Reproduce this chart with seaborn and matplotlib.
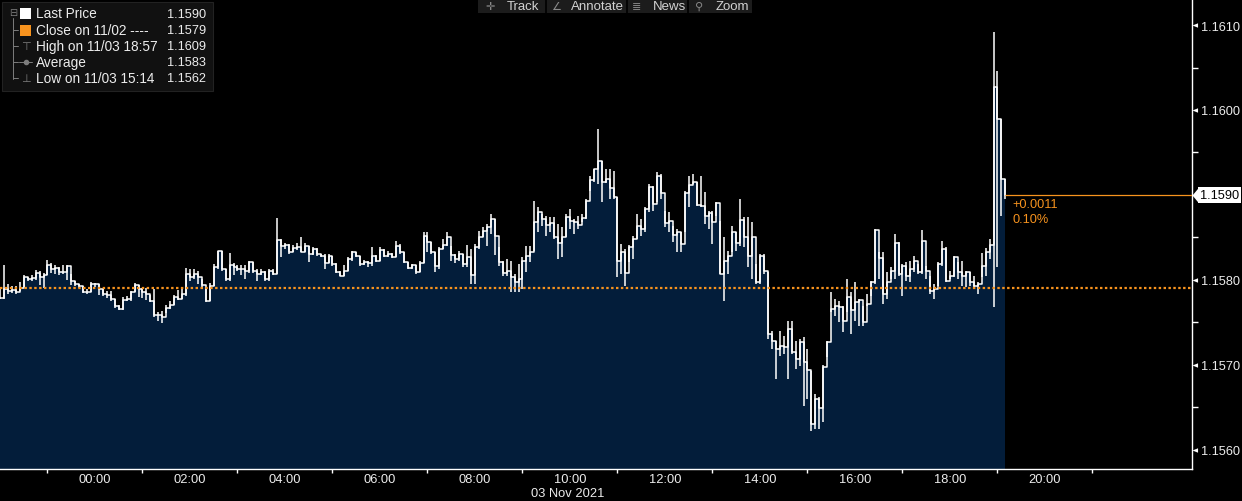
import numpy as np
import pandas as pd
import matplotlib
matplotlib.use("Agg")
import matplotlib.pyplot as plt
import matplotlib.transforms as mtransforms
from matplotlib.path import Path
from matplotlib.patches import Rectangle
import seaborn as sns

# ---------------- data (EUR/USD, 5-minute bars from 02 Nov 22:00) ----------------
close = [
    1.15779, 1.15789, 1.15787, 1.15788, 1.15786, 1.15791, 1.15804, 1.15801, 1.15802, 1.15808,
    1.15804, 1.15806, 1.15818, 1.15813, 1.15814, 1.15809, 1.15809, 1.15816, 1.15799, 1.15795,
    1.15793, 1.15786, 1.15786, 1.15795, 1.15795, 1.15789, 1.15784, 1.15782, 1.15778, 1.15769,
    1.15766, 1.15776, 1.15778, 1.15786, 1.15794, 1.15789, 1.15786, 1.15784, 1.15775, 1.15759,
    1.15759, 1.15756, 1.15767, 1.15771, 1.15780, 1.15778, 1.15784, 1.15807, 1.15804, 1.15807,
    1.15804, 1.15794, 1.15775, 1.15793, 1.15815, 1.15834, 1.15813, 1.15801, 1.15818, 1.15815,
    1.15813, 1.15813, 1.15811,
    1.15821, 1.15811, 1.15807, 1.15809, 1.15801, 1.15811, 1.15807, 1.15847, 1.15840, 1.15841,
    1.15833, 1.15838, 1.15839, 1.15833, 1.15840, 1.15831, 1.15836, 1.15831, 1.15828, 1.15820,
    1.15828, 1.15819, 1.15809, 1.15805, 1.15811, 1.15825, 1.15833, 1.15828, 1.15819, 1.15821,
    1.15820, 1.15828, 1.15822, 1.15835, 1.15828, 1.15831, 1.15827, 1.15840, 1.15833, 1.15821,
    1.15814, 1.15818, 1.15809, 1.15820, 1.15852, 1.15845, 1.15833, 1.15816, 1.15836, 1.15841,
    1.15851, 1.15829, 1.15825, 1.15831, 1.15819, 1.15827, 1.15806, 1.15839, 1.15851, 1.15858,
    1.15862, 1.15872, 1.15852,
    1.15821, 1.15808, 1.15811, 1.15804, 1.15798, 1.15801, 1.15822, 1.15828, 1.15833, 1.15868,
    1.15880, 1.15872, 1.15865, 1.15867, 1.15851, 1.15844, 1.15851, 1.15874, 1.15869, 1.15868,
    1.15865, 1.15873, 1.15893, 1.15918, 1.15931, 1.15940, 1.15915, 1.15919, 1.15908, 1.15898,
    1.15822, 1.15833, 1.15808, 1.15839, 1.15848, 1.15864, 1.15860, 1.15884, 1.15909, 1.15889,
    1.15922, 1.15902, 1.15867, 1.15869, 1.15853, 1.15856, 1.15842, 1.15902, 1.15912, 1.15915,
    1.15888, 1.15887, 1.15875, 1.15879, 1.15868, 1.15891, 1.15807, 1.15822, 1.15828, 1.15856,
    1.15844, 1.15871, 1.15851, 1.15828, 1.15851, 1.15798,
    1.15828, 1.15811, 1.15736, 1.15728, 1.15719, 1.15722, 1.15721, 1.15742, 1.15715, 1.15707,
    1.15727, 1.15704, 1.15694, 1.15631, 1.15660, 1.15649, 1.15698, 1.15727, 1.15766, 1.15769,
    1.15768, 1.15752, 1.15780, 1.15765, 1.15774, 1.15776, 1.15751, 1.15772, 1.15798, 1.15859,
    1.15826, 1.15784, 1.15798, 1.15811, 1.15844, 1.15807, 1.15816, 1.15805, 1.15813, 1.15822,
    1.15809, 1.15846, 1.15811, 1.15787, 1.15789, 1.15819, 1.15836, 1.15799, 1.15805, 1.15827,
    1.15809, 1.15805, 1.15809, 1.15798, 1.15793, 1.15795, 1.15816, 1.15833, 1.15841, 1.16027,
    1.15989, 1.15919, 1.15900,
]
high = [
    1.15789, 1.15818, 1.15795, 1.15793, 1.15793, 1.15798, 1.15806, 1.15804, 1.15806, 1.15812,
    1.15811, 1.15808, 1.15824, 1.15820, 1.15818, 1.15815, 1.15818, 1.15818, 1.15807, 1.15799,
    1.15795, 1.15793, 1.15789, 1.15798, 1.15796, 1.15795, 1.15789, 1.15787, 1.15787, 1.15778,
    1.15771, 1.15780, 1.15781, 1.15787, 1.15796, 1.15794, 1.15791, 1.15791, 1.15782, 1.15789,
    1.15762, 1.15764, 1.15771, 1.15775, 1.15782, 1.15788, 1.15789, 1.15814, 1.15813, 1.15813,
    1.15811, 1.15801, 1.15792, 1.15796, 1.15819, 1.15834, 1.15834, 1.15813, 1.15832, 1.15820,
    1.15818, 1.15818, 1.15818,
    1.15822, 1.15821, 1.15813, 1.15813, 1.15811, 1.15813, 1.15813, 1.15873, 1.15848, 1.15844,
    1.15842, 1.15841, 1.15844, 1.15851, 1.15844, 1.15840, 1.15839, 1.15838, 1.15831, 1.15831,
    1.15831, 1.15828, 1.15820, 1.15811, 1.15818, 1.15827, 1.15834, 1.15833, 1.15828, 1.15824,
    1.15822, 1.15839, 1.15829, 1.15839, 1.15836, 1.15834, 1.15832, 1.15846, 1.15842, 1.15833,
    1.15821, 1.15819, 1.15818, 1.15822, 1.15856, 1.15856, 1.15845, 1.15833, 1.15839, 1.15848,
    1.15856, 1.15840, 1.15831, 1.15834, 1.15831, 1.15841, 1.15836, 1.15842, 1.15858, 1.15862,
    1.15866, 1.15878, 1.15872,
    1.15839, 1.15822, 1.15825, 1.15822, 1.15807, 1.15819, 1.15827, 1.15840, 1.15840, 1.15893,
    1.15886, 1.15878, 1.15875, 1.15874, 1.15874, 1.15866, 1.15862, 1.15878, 1.15884, 1.15872,
    1.15875, 1.15878, 1.15895, 1.15922, 1.15931, 1.15978, 1.15940, 1.15931, 1.15931, 1.15928,
    1.15898, 1.15842, 1.15836, 1.15841, 1.15852, 1.15878, 1.15872, 1.15886, 1.15913, 1.15911,
    1.15927, 1.15925, 1.15881, 1.15880, 1.15864, 1.15860, 1.15856, 1.15905, 1.15922, 1.15925,
    1.15915, 1.15922, 1.15904, 1.15881, 1.15881, 1.15892, 1.15869, 1.15851, 1.15834, 1.15864,
    1.15856, 1.15895, 1.15874, 1.15874, 1.15868, 1.15819,
    1.15831, 1.15831, 1.15809, 1.15740, 1.15728, 1.15740, 1.15734, 1.15752, 1.15752, 1.15728,
    1.15731, 1.15733, 1.15719, 1.15693, 1.15666, 1.15662, 1.15700, 1.15728, 1.15786, 1.15778,
    1.15775, 1.15769, 1.15801, 1.15786, 1.15798, 1.15778, 1.15769, 1.15784, 1.15799, 1.15860,
    1.15833, 1.15833, 1.15809, 1.15815, 1.15854, 1.15845, 1.15819, 1.15821, 1.15822, 1.15828,
    1.15819, 1.15859, 1.15816, 1.15805, 1.15795, 1.15821, 1.15846, 1.15839, 1.15811, 1.15828,
    1.15821, 1.15822, 1.15811, 1.15809, 1.15805, 1.15798, 1.15832, 1.15838, 1.15848, 1.16092,
    1.16046, 1.15989, 1.15919,
]
low = [
    1.15778, 1.15778, 1.15784, 1.15785, 1.15784, 1.15787, 1.15792, 1.15799, 1.15799, 1.15800,
    1.15794, 1.15791, 1.15806, 1.15808, 1.15807, 1.15806, 1.15807, 1.15800, 1.15794, 1.15793,
    1.15791, 1.15785, 1.15784, 1.15786, 1.15792, 1.15782, 1.15781, 1.15779, 1.15775, 1.15767,
    1.15765, 1.15765, 1.15775, 1.15775, 1.15786, 1.15780, 1.15779, 1.15776, 1.15774, 1.15756,
    1.15752, 1.15749, 1.15761, 1.15766, 1.15771, 1.15776, 1.15778, 1.15781, 1.15799, 1.15801,
    1.15795, 1.15789, 1.15774, 1.15775, 1.15793, 1.15813, 1.15811, 1.15799, 1.15799, 1.15806,
    1.15811, 1.15806, 1.15801,
    1.15808, 1.15808, 1.15799, 1.15806, 1.15799, 1.15799, 1.15806, 1.15807, 1.15827, 1.15836,
    1.15831, 1.15833, 1.15835, 1.15833, 1.15833, 1.15821, 1.15829, 1.15828, 1.15827, 1.15813,
    1.15820, 1.15816, 1.15808, 1.15805, 1.15805, 1.15811, 1.15822, 1.15827, 1.15816, 1.15818,
    1.15815, 1.15816, 1.15821, 1.15822, 1.15827, 1.15827, 1.15826, 1.15827, 1.15831, 1.15820,
    1.15813, 1.15813, 1.15807, 1.15809, 1.15820, 1.15833, 1.15831, 1.15809, 1.15813, 1.15836,
    1.15840, 1.15822, 1.15820, 1.15822, 1.15815, 1.15815, 1.15795, 1.15795, 1.15836, 1.15851,
    1.15840, 1.15854, 1.15829,
    1.15816, 1.15805, 1.15805, 1.15786, 1.15786, 1.15786, 1.15789, 1.15809, 1.15821, 1.15834,
    1.15856, 1.15864, 1.15852, 1.15856, 1.15848, 1.15825, 1.15827, 1.15851, 1.15860, 1.15854,
    1.15860, 1.15868, 1.15872, 1.15905, 1.15915, 1.15913, 1.15892, 1.15914, 1.15895, 1.15895,
    1.15804, 1.15807, 1.15793, 1.15821, 1.15825, 1.15848, 1.15852, 1.15856, 1.15880, 1.15881,
    1.15892, 1.15895, 1.15862, 1.15856, 1.15845, 1.15833, 1.15833, 1.15856, 1.15886, 1.15913,
    1.15887, 1.15886, 1.15866, 1.15860, 1.15842, 1.15875, 1.15807, 1.15775, 1.15807, 1.15833,
    1.15834, 1.15840, 1.15839, 1.15815, 1.15801, 1.15795,
    1.15795, 1.15807, 1.15731, 1.15719, 1.15684, 1.15711, 1.15713, 1.15684, 1.15713, 1.15695,
    1.15699, 1.15652, 1.15660, 1.15622, 1.15625, 1.15625, 1.15633, 1.15709, 1.15762, 1.15758,
    1.15751, 1.15739, 1.15762, 1.15736, 1.15752, 1.15746, 1.15746, 1.15769, 1.15781, 1.15795,
    1.15801, 1.15772, 1.15778, 1.15801, 1.15801, 1.15805, 1.15781, 1.15799, 1.15798, 1.15809,
    1.15807, 1.15807, 1.15801, 1.15784, 1.15778, 1.15793, 1.15816, 1.15798, 1.15801, 1.15804,
    1.15801, 1.15793, 1.15792, 1.15793, 1.15792, 1.15784, 1.15804, 1.15805, 1.15825, 1.15768,
    1.15815, 1.15875, 1.15895,
]
prev_close = 1.1579
last_price = 1.1590
net_change = "+0.0011"
pct_change = "0.10%"
y_ticks = [1.1560, 1.1570, 1.1580, 1.1590, 1.1600, 1.1610]
y_minor = [1.1565, 1.1575, 1.1585, 1.1595, 1.1605]
x_label_hours = [0, 2, 4, 6, 8, 10, 12, 14, 16, 18, 20]
x_labels = ["00:00", "02:00", "04:00", "06:00", "08:00", "10:00",
            "12:00", "14:00", "16:00", "18:00", "20:00"]
x_minor_hours = [-1, 1, 3, 5, 7, 9, 11, 13, 15, 17, 19, 21]
legend_rows = [
    ("Last Price", "1.1590"),
    ("Close on 11/02 ---- ", "1.1579"),
    ("High on 11/03 18:57", "1.1609"),
    ("Average", "1.1583"),
    ("Low on 11/03 15:14", "1.1562"),
]
date_label = "03 Nov 2021"
toolbar = [("\u271b", "Track"), ("\u2220", "Annotate"), ("\u2263", "News"), ("\u26b2", "Zoom")]

times = pd.date_range("2021-11-02 22:00", periods=len(close), freq="5min")
hours = (times - pd.Timestamp("2021-11-03 00:00")) / pd.Timedelta(hours=1)
df = pd.DataFrame({"hour": np.asarray(hours, dtype=float), "close": close, "high": high, "low": low})

# ---------------- style ----------------
sns.set_theme(style="ticks")
plt.rcParams["font.family"] = ["Liberation Sans", "DejaVu Sans"]
NAVY = "#031d3a"
ORANGE = "#f7931e"
TXT = "#ececec"

W, H = 1242, 502
fig = plt.figure(figsize=(W / 100, H / 100), dpi=100, facecolor="black")
ax = fig.add_axes([0, 32 / H, 1192 / W, 470 / H])
ax.set_facecolor("black")
ymin, ymax = 1.155776, 1.161306
ax.set_ylim(ymin, ymax)
ax.set_xlim(-2.0, 23.095)

ax.fill_between(df["hour"], df["close"], ymin, step="post", color=NAVY, lw=0, zorder=1)
ax.vlines(df["hour"], df["low"], df["high"], color="white", lw=1.1, zorder=3)
sns.lineplot(data=df, x="hour", y="close", drawstyle="steps-post", color="white",
             lw=1.1, estimator=None, ax=ax, zorder=3)
ax.axhline(prev_close, color=ORANGE, lw=1.6, ls=(0, (1.1, 1.1)), zorder=4)
ax.hlines(last_price, df["hour"].iloc[-1], 23.095, color=ORANGE, lw=0.9, zorder=4)
ax.set_xlabel("")
ax.set_ylabel("")

# axes / spines
for s in ["left", "top"]:
    ax.spines[s].set_visible(False)
for s in ["right", "bottom"]:
    ax.spines[s].set_color("white")
    ax.spines[s].set_linewidth(1.0)

ax.yaxis.tick_right()
ax.set_yticks(y_ticks)
ax.set_yticklabels([f"{v:.4f}" for v in y_ticks])
ax.set_yticks(y_minor, minor=True)
ax.tick_params(axis="y", which="major", length=4, width=0, pad=2.5,
               labelsize=9.2, labelcolor=TXT)
ax.tick_params(axis="y", which="minor", length=4, width=1, color="white", direction="out")

ax.set_xticks(x_label_hours)
ax.set_xticklabels(x_labels)
ax.set_xticks(x_minor_hours, minor=True)
ax.tick_params(axis="x", which="major", length=0, pad=3, labelsize=9.3, labelcolor=TXT)
ax.tick_params(axis="x", which="minor", length=3, width=1, color="white", direction="out")

tri = Path([(0, 0), (1, -0.4), (1, 0.4), (0, 0)])
for t in ax.yaxis.get_major_ticks():
    t.tick2line.set_marker(tri)
    t.tick2line.set_markersize(8)
    t.tick2line.set_markerfacecolor("white")
    t.tick2line.set_markeredgecolor("white")
    t.tick2line.set_markeredgewidth(0)

# last price tag on the right axis
blend = mtransforms.blended_transform_factory(ax.transAxes, ax.transData)
ptr = Path([(0, 0), (1, -1.2), (1, 1.2), (0, 0)])
ax.plot([1.0], [last_price], transform=blend, marker=ptr, ms=10, mfc="white",
        mec="white", mew=0, clip_on=False, zorder=6, ls="none")
ax.annotate(f"{last_price:.4f}", xy=(1.0, last_price), xycoords=blend,
            xytext=(8, 0), textcoords="offset pixels", ha="left", va="center",
            fontsize=9.2, color="black", annotation_clip=False, zorder=7,
            bbox=dict(boxstyle="square,pad=0.12", fc="white", ec="none"))
ax.annotate(net_change, xy=(df["hour"].iloc[-1], last_price), xycoords="data",
            xytext=(7, -9), textcoords="offset pixels", ha="left", va="center",
            fontsize=9.2, color=ORANGE, zorder=7)
ax.annotate(pct_change, xy=(df["hour"].iloc[-1], last_price), xycoords="data",
            xytext=(7, -24), textcoords="offset pixels", ha="left", va="center",
            fontsize=9.2, color=ORANGE, zorder=7)


def fx(x):
    return x / W


def fy(y):
    return 1 - y / H


fig.text(fx(568), fy(494), date_label, ha="center", va="center", fontsize=9.3, color=TXT)

# legend box top-left
fig.patches.append(Rectangle((fx(2), fy(92)), fx(211), 89 / H, transform=fig.transFigure,
                             fc="#111111", ec="#222222", lw=0.8, zorder=5))
row_y = [14.5, 31, 47, 63, 79]
GRAY = "#7d7d7d"
fig.text(fx(13), fy(13), "\u229f", ha="center", va="center", fontsize=7, color=GRAY, zorder=6,
         family=["DejaVu Sans"])
fig.add_artist(plt.Line2D([fx(13), fx(13)], [fy(19), fy(80)], color=GRAY, lw=0.7, zorder=6))
for yy in row_y[1:]:
    fig.add_artist(plt.Line2D([fx(13), fx(18)], [fy(yy), fy(yy)], color=GRAY, lw=0.7, zorder=6))
fig.patches.append(Rectangle((fx(20), fy(20)), 11 / W, 11 / H, transform=fig.transFigure,
                             fc="white", ec="none", zorder=6))
fig.patches.append(Rectangle((fx(20), fy(36.5)), 11 / W, 11 / H, transform=fig.transFigure,
                             fc=ORANGE, ec="none", zorder=6))
fig.text(fx(25.5), fy(47), "\u22a4", ha="center", va="center", fontsize=8, color=GRAY,
         family=["DejaVu Sans"], zorder=6)
fig.add_artist(plt.Line2D([fx(19), fx(32)], [fy(63), fy(63)], color=GRAY, lw=0.7, zorder=6))
fig.add_artist(plt.Line2D([fx(25.5)], [fy(63)], marker="o", ms=3, color=GRAY, zorder=6))
fig.text(fx(25.5), fy(79), "\u22a5", ha="center", va="center", fontsize=8, color=GRAY,
         family=["DejaVu Sans"], zorder=6)
for (lab, val), yy in zip(legend_rows, row_y):
    fig.text(fx(36), fy(yy), lab, ha="left", va="center", fontsize=9.8, color=TXT, zorder=6)
    fig.text(fx(206), fy(yy), val, ha="right", va="center", fontsize=9.2, color=TXT, zorder=6)

# toolbar at the top
fig.patches.append(Rectangle((fx(478), fy(14)), 274 / W, 14 / H, transform=fig.transFigure,
                             fc="#1c1c1c", ec="none", zorder=5))
tool_x = [(490, 507), (556, 571), (637, 653), (699, 716)]
for (icon, lab), (ix, tx) in zip(toolbar, tool_x):
    fig.text(fx(ix), fy(6.5), icon, ha="center", va="center", fontsize=8, color="#8a8a8a",
             family=["DejaVu Sans"], zorder=6)
    fig.text(fx(tx), fy(6.5), lab, ha="left", va="center", fontsize=9.5, color="#d2d2d2", zorder=6)
for sx in [546, 627, 688]:
    fig.add_artist(plt.Line2D([fx(sx), fx(sx)], [fy(0), fy(14)], color="black", lw=1.2, zorder=6))

fig.savefig("out.png", dpi=100, facecolor="black")
